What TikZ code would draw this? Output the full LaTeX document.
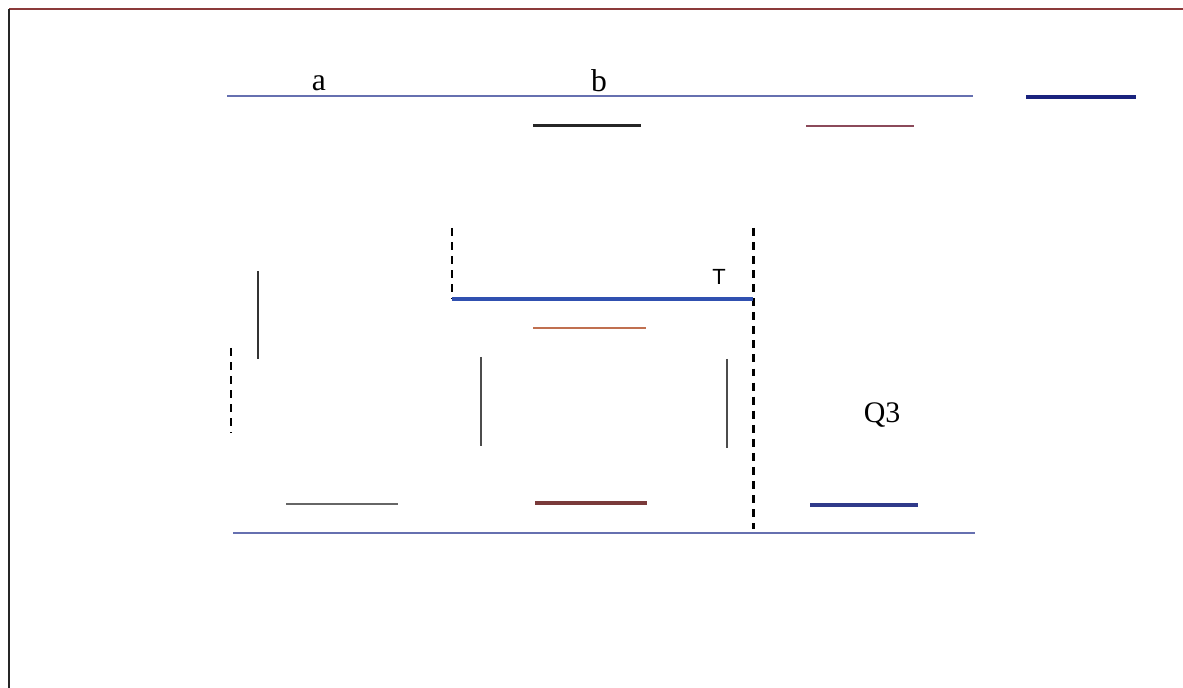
\documentclass[tikz,border=0pt]{standalone}
\usepackage{fontspec}
\setmainfont{Liberation Serif}
\newfontfamily\sansf{Liberation Sans}
\definecolor{framered}{HTML}{8B3A3A}
\definecolor{slate}{HTML}{6670B0}
\definecolor{royal}{HTML}{3050B0}
\definecolor{navy}{HTML}{1A237E}
\definecolor{navytwo}{HTML}{303A8A}
\definecolor{plum}{HTML}{8B4A5A}
\definecolor{rust}{HTML}{C07050}
\definecolor{maroon}{HTML}{7A3A3A}
\tikzset{
  seg/.style={line width=1.6pt},
  dsh/.style={line width=1.7pt, dash pattern=on 4.5pt off 3.5pt},
  lbl/.style={inner sep=0pt, font=\fontsize{18}{20}\selectfont},
}
\begin{document}
\begin{tikzpicture}[x=0.02cm,y=-0.02cm]
\useasboundingbox (0,0) rectangle (1183,688);
% frame
\draw[framered, line width=1.4pt] (9,9) -- (1183,9);
\draw[black!85, line width=1.7pt] (9,9) -- (9,688);
% top
\draw[slate, seg] (227,96) -- (973,96);
\node[lbl] (a) at (319,83) {a};
\node[lbl] (b) at (599,81) {b};
\draw[navy, line width=2pt] (1026,97) -- (1136,97);
\draw[black!85, line width=1.7pt] (533,126) -- (641,126);
\draw[plum, seg] (806,126) -- (914,126);
% middle
\draw[black, dsh] (452,228) -- (452,299);
\draw[black, dsh] (753,228) -- (753,529);
\draw[royal, line width=1.9pt] (452,299) -- (753,299);
\node[inner sep=0pt, font=\sansf\fontsize{12.5}{14}\selectfont] (T) at (719,277) {T};
\draw[rust, seg] (533,328) -- (646,328);
\draw[black!80, seg] (258,271) -- (258,359);
\draw[black, dsh] (231,348) -- (231,433);
\draw[black!70, line width=1.1pt] (481,357) -- (481,446);
\draw[black!70, line width=1.1pt] (727,359) -- (727,448);
\node[inner sep=0pt, font=\fontsize{17}{19}\selectfont] (Q) at (882,415) {Q3};
% bottom
\draw[black!60, line width=1.1pt] (286,504) -- (398,504);
\draw[maroon, line width=1.9pt] (535,503) -- (647,503);
\draw[navytwo, line width=1.9pt] (810,505) -- (918,505);
\draw[slate, line width=1.7pt] (233,533) -- (975,533);
\end{tikzpicture}
\end{document}
